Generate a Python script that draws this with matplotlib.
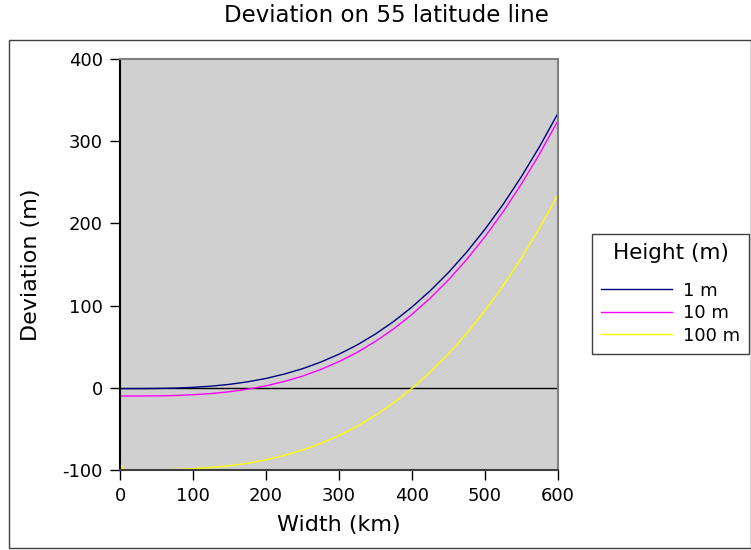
import numpy as np
import matplotlib
matplotlib.use('Agg')
import matplotlib.pyplot as plt
from matplotlib.patches import Rectangle

plt.rcParams['axes.unicode_minus'] = False

# width along the latitude line (km)
width_km = [0, 1, 3, 6, 10, 25, 50, 75, 100, 125, 150, 175, 200, 225, 250, 275,
            300, 325, 350, 375, 400, 425, 450, 475, 500, 525, 550, 575, 600]

# deviation (m) for each observer height
dev_1m = [-1, -1, -1, -1, -1, -1, -0.8, -0.4, 0.6, 2.0, 4.2, 7.3, 11.4, 16.7, 23.2, 31.3,
          40.9, 52.2, 65.5, 80.8, 98.3, 118.1, 140.3, 165.2, 192.9, 223.4, 257.1, 293.9, 334]
dev_10m = [-10, -10, -10, -10, -10, -10, -9.8, -9.4, -8.4, -7.0, -4.8, -1.7, 2.4, 7.7, 14.2, 22.3,
           31.9, 43.2, 56.5, 71.8, 89.3, 109.1, 131.3, 156.2, 183.9, 214.4, 248.1, 284.9, 325]
dev_100m = [-85, -92, -97, -99.3, -100, -100, -99.8, -99.4, -98.4, -97.0, -94.8, -91.7, -87.6,
            -82.3, -75.8, -67.7, -58.1, -46.8, -33.5, -18.2, -0.7, 19.1, 41.3, 66.2, 93.9,
            124.4, 158.1, 194.9, 235]

labels = ['1 m', '10 m', '100 m']
colors = ['#000080', '#ff00ff', '#ffff00']

fig = plt.figure(figsize=(7.51, 5.5), dpi=100)
fig.patches.append(Rectangle((9/751, 2/550), 742/751, 508/550, transform=fig.transFigure,
                             fill=False, edgecolor='#404040', linewidth=1))

ax = fig.add_axes([120/751, 80/550, 438/751, 411/550])
ax.set_facecolor('#d0d0d0')

ax.axhline(0, color='black', linewidth=1)
for series, lab, col in zip([dev_1m, dev_10m, dev_100m], labels, colors):
    ax.plot(width_km, series, color=col, linewidth=1, label=lab)

ax.set_xlim(0, 600)
ax.set_ylim(-100, 400)
ax.set_xticks(np.arange(0, 601, 100))
ax.set_yticks(np.arange(-100, 401, 100))
ax.tick_params(direction='out', length=7, width=1, labelsize=13, pad=5.5)

ax.spines['left'].set_color('black')
ax.spines['bottom'].set_color('#404040')
ax.spines['top'].set_color('#808080')
ax.spines['right'].set_color('#808080')
for s in ax.spines.values():
    s.set_linewidth(1.5)

ax.set_xlabel('Width (km)', fontsize=16, labelpad=7)
ax.set_ylabel('Deviation (m)', fontsize=16, labelpad=15)

fig.text(386/751, 1 - 16/550, 'Deviation on 55 latitude line', ha='center', va='center',
         fontsize=16.5)

leg = fig.legend(loc='upper left', bbox_to_anchor=(592/751, 1 - 234/550),
                 title='Height (m)', fontsize=13, title_fontsize=15.5,
                 fancybox=False, edgecolor='#404040', framealpha=1,
                 handlelength=3.95, handletextpad=0.6, labelspacing=0.25,
                 borderpad=0.5, borderaxespad=0)
leg.get_frame().set_linewidth(1)
leg._legend_box.sep = 13.5

fig.savefig('out.png', dpi=100)
